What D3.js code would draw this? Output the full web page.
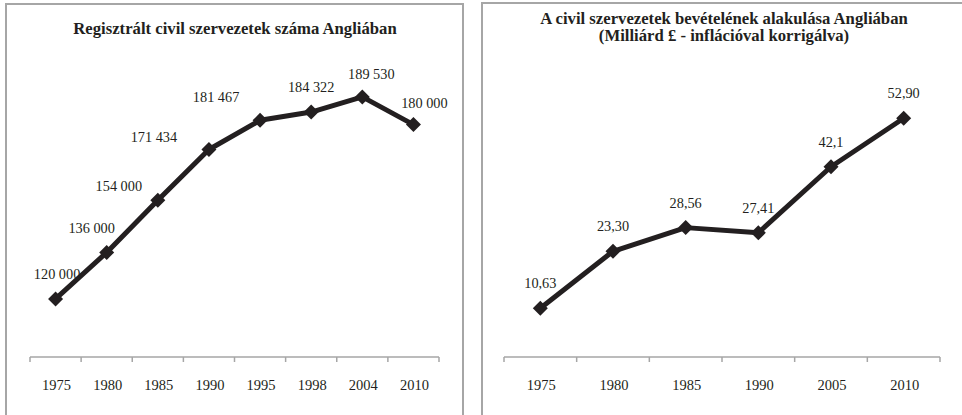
<!DOCTYPE html>
<html lang="hu">
<head>
  <meta charset="UTF-8">
  <title>Civil szervezetek Angliában</title>
  <script src="https://d3js.org/d3.v7.min.js"></script>
  <style>
    body
    {
      margin: 0;
      background-color: #ffffff;
    }

    svg
    {
      display: block;
    }

    svg text
    {
      font-family: "Liberation Serif", "Times New Roman", Times, serif;
    }
  </style>
</head>
<body>
  <svg width="962" height="415"></svg>
  <script>
    // bal oldali grafikon: szervezetek száma
    const countYears = ["1975", "1980", "1985", "1990", "1995", "1998", "2004", "2010"];
    const countValues = [120000, 136000, 154000, 171434, 181467, 184322, 189530, 180000];
    const countLabels = ["120 000", "136 000", "154 000", "171 434", "181 467", "184 322", "189 530", "180 000"];

    // jobb oldali grafikon: bevétel (milliárd font)
    const incomeYears = ["1975", "1980", "1985", "1990", "2005", "2010"];
    const incomeValues = [10.63, 23.30, 28.56, 27.41, 42.1, 52.90];
    const incomeLabels = ["10,63", "23,30", "28,56", "27,41", "42,1", "52,90"];

    // a bal grafikon címkéi kézzel el vannak tolva
    const countNudge = [[1.5, -25], [-15, -24], [-39, -14], [-55, -12], [-44, -23], [0, -25], [9, -23], [11, -22]];

    const ink = "#231f20";
    const frame = "#a6a6a6";
    const serif = "'Liberation Serif', 'Times New Roman', Times, serif";

    const svg = d3.select("svg");

    const diamond = "M0,-7.5L7.5,0L0,7.5L-7.5,0Z";

    function drawPanel(cfg)
    {
      const g = svg.append("g");

      // keret
      g.append("rect")
        .attr("x", cfg.box[0])
        .attr("y", cfg.box[1])
        .attr("width", cfg.box[2])
        .attr("height", cfg.box[3])
        .attr("fill", "none")
        .attr("stroke", frame)
        .attr("stroke-width", 2);

      // cím
      cfg.title.forEach((t, i) => {
        g.append("text")
          .attr("x", cfg.titleX)
          .attr("y", cfg.titleY + i * 17.5)
          .attr("text-anchor", "middle")
          .attr("font-family", serif)
          .attr("font-weight", "bold")
          .attr("font-size", "16.7px")
          .attr("fill", ink)
          .text(t);
      });

      const x = d3.scaleBand()
        .domain(cfg.years)
        .range(cfg.xRange);

      const y = d3.scaleLinear()
        .domain(cfg.yDomain)
        .range(cfg.yRange);

      const axisY = 357;

      // tengely
      g.append("line")
        .attr("x1", cfg.xRange[0])
        .attr("x2", cfg.xRange[1])
        .attr("y1", axisY)
        .attr("y2", axisY)
        .attr("stroke", frame)
        .attr("stroke-width", 1.5);

      const tickPos = cfg.years.map(d => x(d)).concat([cfg.xRange[1]]);
      g.selectAll(".tick")
        .data(tickPos)
        .join("line")
        .attr("x1", d => d)
        .attr("x2", d => d)
        .attr("y1", axisY)
        .attr("y2", axisY + 5)
        .attr("stroke", frame)
        .attr("stroke-width", 1.5);

      g.selectAll(".year")
        .data(cfg.years)
        .join("text")
        .attr("x", d => x(d) + x.bandwidth() / 2 + 1)
        .attr("y", 390)
        .attr("text-anchor", "middle")
        .attr("font-family", serif)
        .attr("font-size", "14.5px")
        .attr("fill", ink)
        .text(d => d);

      const pts = cfg.values.map((v, i) => ({
        x: x(cfg.years[i]) + x.bandwidth() / 2,
        y: y(v),
        label: cfg.labels[i],
        nudge: cfg.nudge ? cfg.nudge[i] : [0, -25]
      }));

      const line = d3.line()
        .x(d => d.x)
        .y(d => d.y);

      g.append("path")
        .datum(pts)
        .attr("d", line)
        .attr("fill", "none")
        .attr("stroke", ink)
        .attr("stroke-width", 5)
        .attr("stroke-linejoin", "round");

      g.selectAll(".marker")
        .data(pts)
        .join("path")
        .attr("d", diamond)
        .attr("transform", d => `translate(${d.x},${d.y})`)
        .attr("fill", ink);

      g.selectAll(".label")
        .data(pts)
        .join("text")
        .attr("x", d => d.x + d.nudge[0])
        .attr("y", d => d.y + d.nudge[1] + 5)
        .attr("text-anchor", "middle")
        .attr("font-family", serif)
        .attr("font-size", "14.3px")
        .attr("fill", ink)
        .text(d => d.label);
    }

    drawPanel({
      box: [6, 4, 457, 430],
      title: ["Regisztrált civil szervezetek száma Angliában"],
      titleX: 235,
      titleY: 33.5,
      years: countYears,
      values: countValues,
      labels: countLabels,
      nudge: countNudge,
      xRange: [30, 439],
      yDomain: [100000, 200000],
      yRange: [357, 66.5]
    });

    drawPanel({
      box: [482, 3, 500, 430],
      title: ["A civil szervezetek bevételének alakulása Angliában", "(Milliárd £ - inflációval korrigálva)"],
      titleX: 724,
      titleY: 23.5,
      years: incomeYears,
      values: incomeValues,
      labels: incomeLabels,
      xRange: [504, 940],
      yDomain: [0, 60],
      yRange: [356, 86.3]
    });
  </script>
</body>
</html>
